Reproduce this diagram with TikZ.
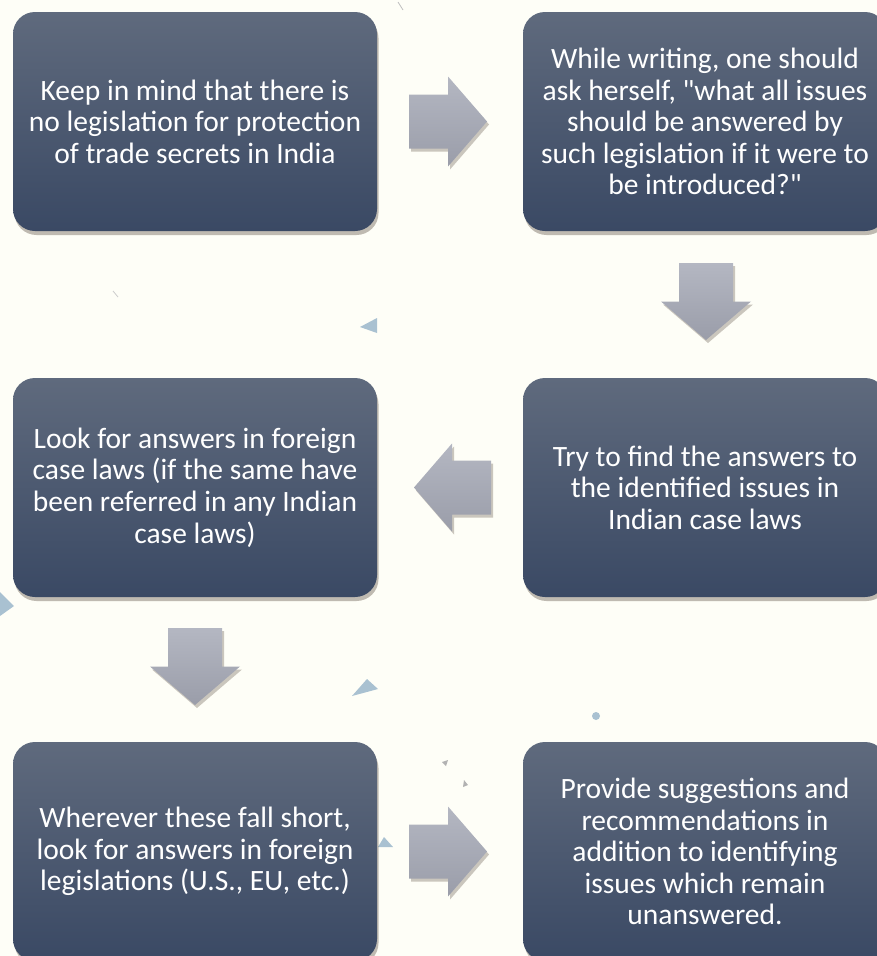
\documentclass[tikz,border=0pt]{standalone}
\usepackage{fontspec}
\setmainfont{Carlito}[Ligatures=TeXOff]
\usetikzlibrary{shadows,calc}
\definecolor{bgcol}{HTML}{FEFEF7}
\definecolor{boxtop}{HTML}{5F6A7D}
\definecolor{boxbot}{HTML}{3A4964}
\definecolor{arrtop}{HTML}{B4B7C2}
\definecolor{arrbot}{HTML}{9A9DA9}
\definecolor{shard}{HTML}{A9C1D1}
\tikzset{
  box/.style={rounded corners=22pt, top color=boxtop, bottom color=boxbot,
    minimum width=364pt, minimum height=219pt, inner sep=0pt,
    text=white, align=center, font=\fontsize{29.5}{31.6}\selectfont,
    drop shadow={shadow xshift=1.5pt, shadow yshift=-4pt, opacity=0.3, fill=black!75!brown}},
  arrowfill/.style={top color=arrtop, bottom color=arrbot,
    drop shadow={shadow xshift=2pt, shadow yshift=-3pt, opacity=0.25, fill=black!75!brown}},
  shardfill/.style={fill=shard},
  pics/rarrow/.style={code={\path[arrowfill] (-39,-27) -- (0,-27) -- (0,-45) -- (39,0) -- (0,45) -- (0,27) -- (-39,27) -- cycle;}},
  pics/larrow/.style={code={\path[arrowfill] (39,-27) -- (0,-27) -- (0,-44) -- (-38,0) -- (0,44) -- (0,27) -- (39,27) -- cycle;}},
  pics/darrow/.style={code={\path[arrowfill] (-27,-38.5) -- (27,-38.5) -- (27,0) -- (45,0) -- (0,38.5) -- (-45,0) -- (-27,0) -- cycle;}}
}
\begin{document}
\begin{tikzpicture}[x=1pt,y=-1pt]
\fill[bgcol] (0,0) rectangle (877,956);
\useasboundingbox (0,0) rectangle (877,956);
\clip (0,0) rectangle (877,956);
% background shards
\fill[shardfill] (360,327) -- (377,318) -- (377,333) -- cycle;
\fill[shardfill] (352,696) -- (367,679) -- (378,689) -- cycle;
\fill[shardfill] (378,847) -- (393,847) -- (384,837) -- cycle;
\fill[shardfill] (0,592) -- (14,606) -- (0,616) -- cycle;
\fill[shardfill] (596,716) circle (4);
\fill[shardfill] (855,808) -- (857,802) -- (860,810) -- cycle;
\fill[gray!60] (442,762) -- (448,760) -- (446,766) -- cycle;
\fill[gray!60] (464,780) -- (468,785) -- (463,787) -- cycle;
\draw[gray!50, line width=0.8pt] (398,2) -- (403,10);
\draw[gray!40, line width=0.8pt] (113,291) -- (118,297);
% boxes
\node[box] (b1) at (195,121.5) {Keep in mind that there is\\no legislation for protection\\of trade secrets in India};
\node[box] (b2) at (705,121.5) {While writing, one should\\ask herself, "what all issues\\should be answered by\\such legislation if it were to\\be introduced?"};
\node[box] (b3) at (195,487.5) {Look for answers in foreign\\case laws (if the same have\\been referred in any Indian\\case laws)};
\node[box] (b4) at (705,487.5) {Try to find the answers to\\the identified issues in\\Indian case laws};
\node[box] (b5) at (195,851.5) {Wherever these fall short,\\look for answers in foreign\\legislations (U.S., EU, etc.)};
\node[box] (b6) at (705,851.5) {Provide suggestions and\\recommendations in\\addition to identifying\\issues which remain\\unanswered.};
% block arrows
\pic at ($(b1.east)!0.5!(b2.west)+(-2,0)$) {rarrow};
\pic at ($(b2.south)!0.5!(b4.north)+(1,-3)$) {darrow};
\pic at ($(b4.west)!0.5!(b3.east)+(2,0)$) {larrow};
\pic at ($(b3.south)!0.5!(b5.north)+(0,-3)$) {darrow};
\pic at ($(b5.east)!0.5!(b6.west)+(-2,0)$) {rarrow};
\end{tikzpicture}
\end{document}
